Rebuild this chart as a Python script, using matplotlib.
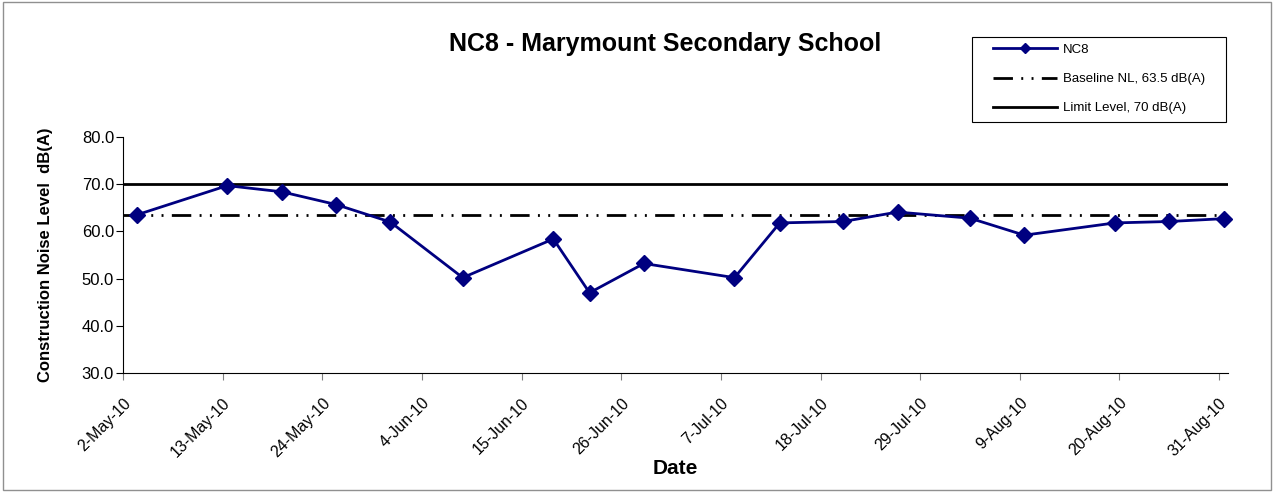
import matplotlib.pyplot as plt
from matplotlib.patches import Rectangle
import numpy as np
import datetime as dt

plt.rcParams['font.family'] = ['Liberation Sans', 'DejaVu Sans']

# measurement dates and levels, dB(A)
dates = ['2010-05-03', '2010-05-13', '2010-05-19', '2010-05-25', '2010-05-31',
         '2010-06-08', '2010-06-18', '2010-06-22', '2010-06-28', '2010-07-08',
         '2010-07-13', '2010-07-20', '2010-07-26', '2010-08-03', '2010-08-09',
         '2010-08-19', '2010-08-25', '2010-08-31']
nc8 = [63.5, 69.7, 68.4, 65.7, 62.0, 50.2, 58.4, 47.0, 53.2, 50.2,
       61.8, 62.1, 64.1, 62.8, 59.2, 61.8, 62.1, 62.7]
baseline = 63.5
limit = 70.0

x_start = dt.datetime(2010, 5, 2)
x_end = dt.datetime(2010, 9, 1)
tick_dates = [x_start + dt.timedelta(days=11 * i) for i in range(12)]

# excel puts each point in the middle of its day slot
x = [dt.datetime.strptime(d, '%Y-%m-%d') + dt.timedelta(hours=12) for d in dates]

fig = plt.figure(figsize=(12.74, 4.92), dpi=100)
ax = fig.add_axes([0.0966, 0.2419, 0.8674, 0.4796])

ax.axhline(limit, color='black', lw=2, label='Limit Level, 70 dB(A)', zorder=2)
ax.axhline(baseline, color='black', lw=2, dashes=(7, 3, 0.7, 3, 0.7, 3),
           label='Baseline NL, 63.5 dB(A)', zorder=2)
ax.plot(x, nc8, color='#000080', lw=2, marker='D', markersize=8.5,
        label='NC8', zorder=3, clip_on=False)

ax.set_xlim(x_start, x_end)
ax.set_ylim(30, 80)
ax.set_yticks(np.arange(30, 81, 10))
ax.yaxis.set_major_formatter(plt.FormatStrFormatter('%.1f'))
ax.set_xticks(tick_dates)
ax.set_xticklabels([f'{d.day}-{d.strftime("%b")}-10' for d in tick_dates],
                   rotation=45, ha='right', rotation_mode='anchor')
ax.tick_params(axis='x', labelsize=11.5, length=5, color='#808080', pad=11)
ax.tick_params(axis='y', labelsize=12, length=5, pad=1.5)

for s in ['top', 'right']:
    ax.spines[s].set_visible(False)

ax.set_xlabel('Date', fontsize=15, fontweight='bold', va='center')
ax.xaxis.set_label_coords(0.5, (373 - 469) / 236)
ax.set_ylabel('Construction Noise Level  dB(A)', fontsize=12, fontweight='bold', va='center')
ax.yaxis.set_label_coords((45 - 123) / 1105, 0.5)
fig.text(665 / 1274, 1 - 44 / 492, 'NC8 - Marymount Secondary School', ha='center', va='center',
         fontsize=18, fontweight='bold')

h, l = ax.get_legend_handles_labels()
order = [2, 1, 0]
fig.legend([h[i] for i in order], [l[i] for i in order], loc='upper left',
           bbox_to_anchor=(981 / 1274, 1 - 32 / 492), fontsize=9.5, frameon=False,
           handlelength=4.85, handletextpad=0.45, labelspacing=1.28, borderpad=0.4,
           markerscale=0.6)
fig.patches.append(Rectangle((972 / 1274, 1 - 122 / 492), 254 / 1274, 85 / 492,
                             transform=fig.transFigure, fill=False, edgecolor='black', lw=0.8))

fig.patches.append(Rectangle((0.002, 0.004), 0.996, 0.992, transform=fig.transFigure,
                             fill=False, edgecolor='#909090', lw=1))

fig.savefig('out.png', dpi=100)
